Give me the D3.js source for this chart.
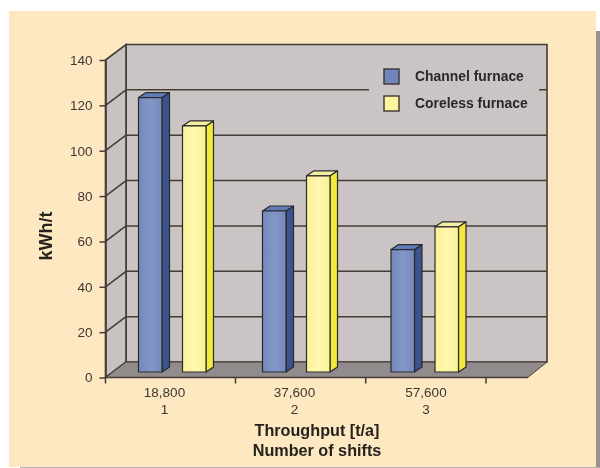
<!DOCTYPE html>
<html><head><meta charset="utf-8">
<script src="https://cdn.jsdelivr.net/npm/d3@7"></script>
<style>html,body{margin:0;padding:0;background:#fff}svg{display:block}text{font-family:"Liberation Sans",Arial,sans-serif}</style>
</head><body><svg id="c" width="600" height="468"></svg>
<script>
const categories=["18,800","37,600","57,600"];
const shifts=["1","2","3"];
const seriesNames=["Channel furnace","Coreless furnace"];
const channelFurnace=[121,71,54];
const corelessFurnace=[108.5,86.5,64];
const yTicks=[0,20,40,60,80,100,120,140];

const svg=d3.select("#c");
const ink="#433c35",DX=20.5,DY=15.5;
const y=d3.scaleLinear().domain([0,140]).range([377.5,60]);
const tickX=d3.scaleLinear().domain([0,1,2,3]).range([105.5,235.5,365.7,486]);
const groupX=d3.scaleOrdinal().domain(categories).range([138.5,262.5,391]);
const labelX=d3.scaleOrdinal().domain(categories).range([164.5,294.5,426]);
const barW=23.5, gap=44;

const defs=svg.append("defs");
function grad(id,a,b){const g=defs.append("linearGradient").attr("id",id);
 g.append("stop").attr("offset","0").attr("stop-color",a);
 g.append("stop").attr("offset","0.5").attr("stop-color",b);
 g.append("stop").attr("offset","1").attr("stop-color",a);}
grad("gb","#7488bc","#8297c6");grad("gy","#fbf196","#fff8ae");
defs.append("filter").attr("id","soft").append("feGaussianBlur").attr("stdDeviation",0.45);

const root=svg.append("g").attr("filter","url(#soft)");
root.append("rect").attr("x",596).attr("y",31).attr("width",4).attr("height",437).attr("fill","#9b9193");
root.append("rect").attr("x",20).attr("y",467).attr("width",580).attr("height",1).attr("fill","#b8b0ac");
root.append("rect").attr("x",9).attr("y",11).attr("width",587).attr("height",456).attr("fill","#fde8c1");

const backL=tickX(0)+DX, backR=547, frontR=527.7, y0=y(0);
const wallY=v=>y(v)-DY;
root.append("polygon").attr("points",[[backL,wallY(140)],[backR,wallY(140)],[backR,wallY(0)],[backL,wallY(0)]].join(" ")).attr("fill","#cbc4c4").attr("stroke",ink).attr("stroke-width",1.6);
root.append("polygon").attr("points",[[tickX(0),y(140)],[backL,wallY(140)],[backL,wallY(0)],[tickX(0),y0]].join(" ")).attr("fill","#c8c2c3").attr("stroke",ink).attr("stroke-width",1.6);
root.append("polygon").attr("points",[[tickX(0),y0],[backL,wallY(0)],[backR,wallY(0)],[frontR,y0]].join(" ")).attr("fill","#928b8b").attr("stroke",ink).attr("stroke-width",1);
const grid=yTicks.filter(d=>d>0&&d<140);
root.append("g").selectAll("line").data(grid).join("line").attr("x1",backL).attr("x2",backR).attr("y1",wallY).attr("y2",wallY).attr("stroke",ink).attr("stroke-width",1.5);
root.append("g").selectAll("line").data(grid).join("line").attr("x1",tickX(0)).attr("x2",backL).attr("y1",y).attr("y2",wallY).attr("stroke",ink).attr("stroke-width",1.5);
const yAxis=d3.axisLeft(y).tickValues(yTicks).tickSize(6).tickSizeOuter(0).tickPadding(7);
const ya=root.append("g").attr("transform",`translate(${tickX(0)},0)`).call(yAxis);
ya.select(".domain").attr("stroke",ink).attr("stroke-width",1.6);
ya.selectAll("line").attr("stroke",ink).attr("stroke-width",1.5);
ya.selectAll("text").attr("font-size",13.5).attr("fill","#3c3833");
root.append("line").attr("x1",tickX(0)).attr("x2",frontR).attr("y1",y0).attr("y2",y0).attr("stroke",ink).attr("stroke-width",1.6);
root.append("g").selectAll("line").data(d3.range(4)).join("line").attr("x1",tickX).attr("x2",tickX).attr("y1",y0).attr("y2",y0+6).attr("stroke",ink).attr("stroke-width",1.5);
const bx=7.5, by=5, baseY=y0-5.5;
const h=v=>y0-y(v);
function bar(g,x,v,front,side,top){
 const t=baseY-h(v);
 g.append("polygon").attr("points",[[x+barW,t],[x+barW+bx,t-by],[x+barW+bx,baseY-by],[x+barW,baseY]].join(" ")).attr("fill",side);
 g.append("polygon").attr("points",[[x,t],[x+bx,t-by],[x+barW+bx,t-by],[x+barW,t]].join(" ")).attr("fill",top);
 g.append("rect").attr("x",x).attr("y",t).attr("width",barW).attr("height",h(v)).attr("fill",front);
 g.selectAll("rect,polygon").attr("stroke","#2b2a2c").attr("stroke-width",1.2).attr("stroke-linejoin","round");
}
categories.forEach((c,i)=>{
 const g=root.append("g");
 bar(g,groupX(c),channelFurnace[i],"url(#gb)","#3c5290","#5f7cb6");
 bar(g,groupX(c)+gap,corelessFurnace[i],"url(#gy)","#f5e83c","#f6efa2");
});
root.append("g").selectAll("text").data(categories).join("text").attr("x",labelX).attr("y",397).attr("text-anchor","middle").attr("font-size",13.5).attr("fill","#3c3833").text(d=>d);
root.append("g").selectAll("text").data(categories).join("text").attr("x",labelX).attr("y",414).attr("text-anchor","middle").attr("font-size",13.5).attr("fill","#3c3833").text((d,i)=>shifts[i]);
root.append("text").attr("x",317).attr("y",435.5).attr("text-anchor","middle").attr("font-size",16.2).attr("font-weight","bold").attr("fill","#26221f").text("Throughput [t/a]");
root.append("text").attr("x",317).attr("y",455.5).attr("text-anchor","middle").attr("font-size",16.2).attr("font-weight","bold").attr("fill","#26221f").text("Number of shifts");
root.append("text").attr("transform","translate(52,236) rotate(-90)").attr("text-anchor","middle").attr("font-size",18).attr("font-weight","bold").attr("fill","#26221f").text("kWh/t");
root.append("rect").attr("x",369).attr("y",60).attr("width",170).attr("height",60).attr("fill","#cbc4c4");
const sw=["#6f86ba","#fdf59e"];
const lg=root.append("g").selectAll("g").data(seriesNames).join("g").attr("transform",(d,i)=>`translate(384,${69+i*27})`);
lg.append("rect").attr("width",15).attr("height",15).attr("fill",(d,i)=>sw[i]).attr("stroke","#3b3630").attr("stroke-width",1.4);
lg.append("text").attr("x",31).attr("y",12).attr("font-size",13.9).attr("font-weight","bold").attr("fill","#2a2627").text(d=>d);
</script></body></html>
